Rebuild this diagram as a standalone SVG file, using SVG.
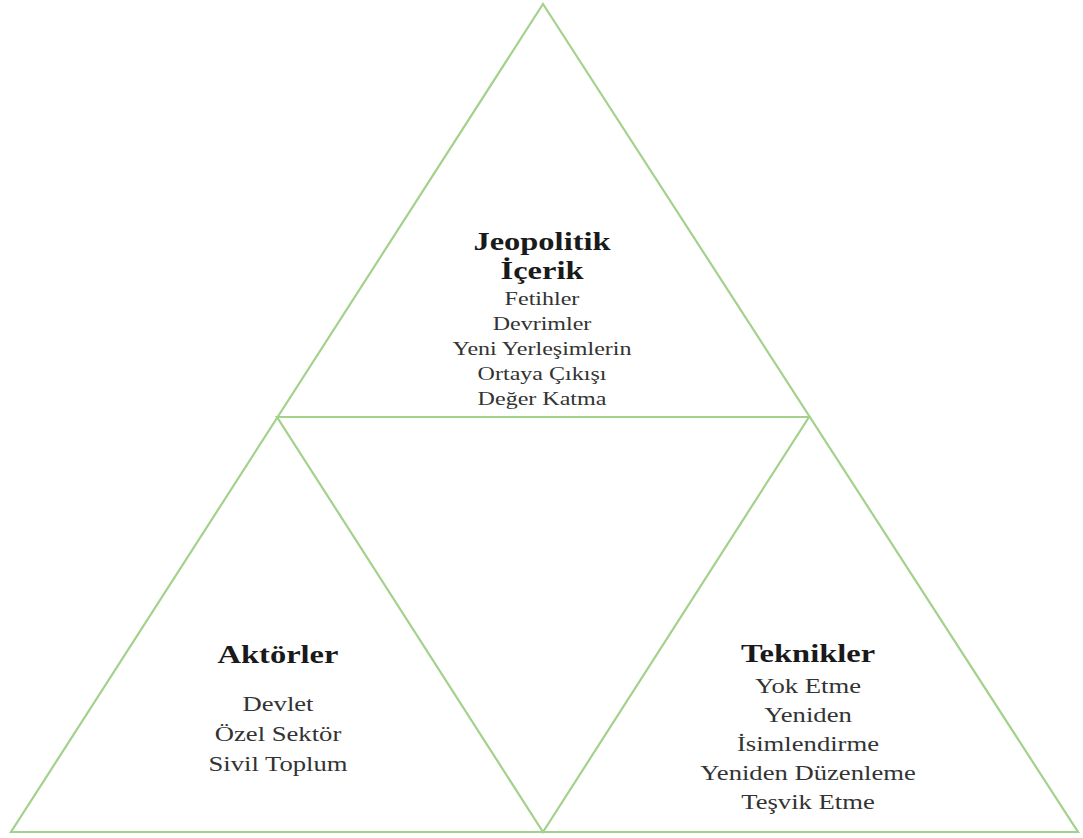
<svg xmlns="http://www.w3.org/2000/svg" width="1083" height="838" viewBox="0 0 1083 838">
<style>
.ln{fill:none;stroke:#a3d28c;stroke-width:2.2;stroke-linejoin:miter}
text{font-family:"Liberation Serif","Times New Roman",serif;fill:#1a1a1a;text-anchor:middle}
.t{font-weight:bold;font-size:25px}
.s{font-size:18.5px;fill:#333}
.m{font-size:20.5px;fill:#333}
</style>
<rect width="1083" height="838" fill="#fff"/>
<g id="connectors">
<polygon class="ln" points="543,4 1078,832 11,832"/>
<polygon class="ln" points="277,417 809,417 543,832"/>
</g>
<g id="jeopolitik" transform="translate(542,0) scale(1.3,1)">
<text class="t" x="0" y="250">Jeopolitik</text>
<text class="t" x="0" y="279">İçerik</text>
<text class="s" x="0" y="305">Fetihler</text>
<text class="s" x="0" y="330">Devrimler</text>
<text class="s" x="0" y="355">Yeni Yerleşimlerin</text>
<text class="s" x="0" y="380">Ortaya Çıkışı</text>
<text class="s" x="0" y="405">Değer Katma</text>
</g>
<g id="aktorler" transform="translate(278,0) scale(1.3,1)">
<text class="t" x="0" y="663">Aktörler</text>
<text class="m" x="0" y="711">Devlet</text>
<text class="m" x="0" y="741">Özel Sektör</text>
<text class="m" x="0" y="771">Sivil Toplum</text>
</g>
<g id="teknikler" transform="translate(808,0) scale(1.3,1)">
<text class="t" x="0" y="662">Teknikler</text>
<text class="m" x="0" y="693">Yok Etme</text>
<text class="m" x="0" y="722">Yeniden</text>
<text class="m" x="0" y="751">İsimlendirme</text>
<text class="m" x="0" y="780">Yeniden Düzenleme</text>
<text class="m" x="0" y="809">Teşvik Etme</text>
</g>
</svg>
